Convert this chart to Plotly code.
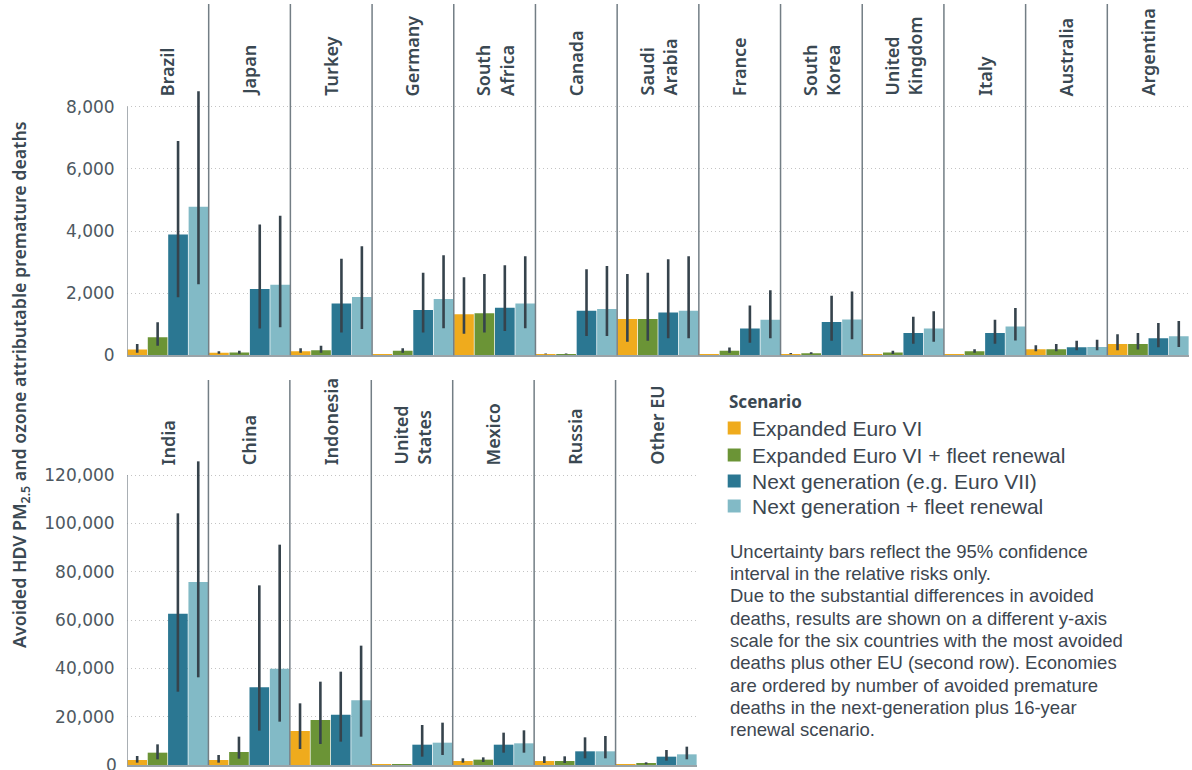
import plotly.graph_objects as go

W, H = 1192, 770

scenarios = ["Expanded Euro VI", "Expanded Euro VI + fleet renewal",
             "Next generation (e.g. Euro VII)", "Next generation + fleet renewal"]
colors = ["#efab1d", "#6b9436", "#2b7792", "#82bac6"]

top_countries = ["Brazil", "Japan", "Turkey", "Germany", "South<br>Africa", "Canada",
                 "Saudi<br>Arabia", "France", "South<br>Korea", "United<br>Kingdom",
                 "Italy", "Australia", "Argentina"]
bottom_countries = ["India", "China", "Indonesia", "United<br>States", "Mexico", "Russia", "Other EU"]

# top row values (central, low, high) per scenario
top_val = [
    [190, 85, 130, 10, 1320, 40, 1170, 10, 45, 10, 10, 195, 365],
    [580, 90, 160, 150, 1350, 40, 1170, 150, 65, 90, 130, 195, 365],
    [3890, 2130, 1670, 1460, 1530, 1430, 1380, 860, 1070, 720, 720, 260, 550],
    [4780, 2270, 1880, 1810, 1670, 1490, 1430, 1140, 1150, 860, 930, 270, 610],
]
top_lo = [
    [80, 50, 85, 10, 690, 30, 440, 10, 30, 10, 10, 130, 160],
    [310, 50, 85, 85, 730, 30, 470, 85, 40, 45, 85, 130, 190],
    [1870, 860, 730, 730, 780, 620, 550, 405, 470, 375, 375, 160, 260],
    [2290, 900, 850, 870, 870, 620, 550, 550, 515, 440, 480, 160, 270],
]
top_hi = [
    [360, 130, 225, 10, 2510, 60, 2620, 10, 70, 10, 10, 320, 680],
    [1060, 150, 310, 225, 2620, 60, 2660, 255, 100, 150, 195, 365, 720],
    [6900, 4210, 3110, 2660, 2900, 2770, 3090, 1600, 1920, 1240, 1140, 470, 1040],
    [8500, 4490, 3510, 3220, 3190, 2870, 3190, 2090, 2050, 1420, 1520, 500, 1100],
]

bot_val = [
    [2070, 2070, 14070, 200, 1650, 1650, 150],
    [5100, 5380, 18620, 300, 2210, 1650, 550],
    [62620, 32140, 20830, 8410, 8410, 5660, 3450],
    [75720, 39860, 26760, 9240, 8970, 5660, 4410],
]
bot_lo = [
    [970, 970, 6620, 200, 970, 830, 150],
    [2350, 2620, 8690, 300, 1240, 830, 280],
    [30340, 14210, 9660, 3450, 5100, 2760, 1790],
    [36280, 17930, 11720, 4140, 5100, 2760, 2350],
]
bot_hi = [
    [3720, 4140, 25520, 200, 2760, 3590, 150],
    [8550, 11720, 34480, 300, 3170, 3590, 1100],
    [104140, 74340, 38620, 16550, 13380, 11450, 6210],
    [125650, 91170, 49380, 17520, 14350, 12000, 7590],
]

top_ticks = [0, 2000, 4000, 6000, 8000]
bot_ticks = [0, 20000, 40000, 60000, 80000, 100000, 120000]

y_title = "Avoided HDV PM<sub>2.5</sub> and ozone attributable premature deaths"
note_lines = [
    "Uncertainty bars reflect the 95% confidence",
    "interval in the relative risks only.",
    "Due to the substantial differences in avoided",
    "deaths, results are shown on a different y-axis",
    "scale for the six countries with the most avoided",
    "deaths plus other EU (second row). Economies",
    "are ordered by number of avoided premature",
    "deaths in the next-generation plus 16-year",
    "renewal scenario.",
]


def px(x):
    return x / W


def py(y):
    return 1 - y / H


fig = go.Figure()
ERR_C = "#36434c"
BW = 0.25

for row, (countries, vals, los, his, xa, ya) in enumerate([
    (top_countries, top_val, top_lo, top_hi, "x", "y"),
    (bottom_countries, bot_val, bot_lo, bot_hi, "x2", "y2"),
]):
    n = len(countries)
    for k in range(4):
        xs = [i + BW / 2 + k * BW for i in range(n)]
        v = vals[k]
        fig.add_trace(go.Bar(
            x=xs, y=v, width=BW * 0.965,
            marker=dict(color=colors[k], line=dict(width=0)),
            error_y=dict(type="data", symmetric=False,
                         array=[h - c for h, c in zip(his[k], v)],
                         arrayminus=[c - l for c, l in zip(v, los[k])],
                         thickness=2.6, width=0, color=ERR_C),
            xaxis=xa, yaxis=ya, showlegend=False, name=scenarios[k],
            hovertemplate="%{y:,.0f}<extra>" + scenarios[k] + "</extra>",
        ))

TICKFONT = dict(family="DejaVu Sans", size=17, color="#4d5861")
GRID = dict(showgrid=True, gridcolor="#c4c4c4", gridwidth=1, griddash="1px,3px")

fig.update_layout(
    width=W, height=H, margin=dict(l=0, r=0, t=0, b=0),
    plot_bgcolor="white", paper_bgcolor="white", barmode="overlay",
    xaxis=dict(domain=[px(127), px(1189)], range=[0, len(top_countries)],
               showticklabels=False, showgrid=False, zeroline=False, automargin=False,
               showline=True, linecolor="#9aa3a8", linewidth=2, fixedrange=True),
    yaxis=dict(domain=[py(355.3), py(4)], range=[0, 11305], tickvals=top_ticks,
               tickformat=",", tickfont=TICKFONT, ticks="outside", ticklen=8,
               automargin=False,
               tickcolor="rgba(0,0,0,0)", zeroline=False, showline=False, **GRID),
    xaxis2=dict(domain=[px(127), px(697)], range=[0, len(bottom_countries)],
                showticklabels=False, showgrid=False, zeroline=False, automargin=False,
                showline=True, linecolor="#9aa3a8", linewidth=2, anchor="y2"),
    yaxis2=dict(domain=[py(765), py(380)], range=[0, 159310], tickvals=bot_ticks,
                tickformat=",", tickfont=TICKFONT, ticks="outside", ticklen=8,
                tickcolor="rgba(0,0,0,0)", zeroline=False, showline=False,
                automargin=False, anchor="x2", **GRID),
)

shapes = []
annotations = []
LINE_C = "#737e85"
LABEL_FONT = dict(family="Noto Sans", size=18, color="#3a4852", weight=600)

for countries, xr, yr, ticks, label_y in [
    (top_countries, "x", "y", top_ticks, 98),
    (bottom_countries, "x2", "y2", bot_ticks, 467),
]:
    n = len(countries)
    for i in range(1, n):
        shapes.append(dict(type="line", xref=xr, yref=yr + " domain", x0=i, x1=i,
                           y0=0, y1=1, line=dict(color=LINE_C, width=1.5), layer="above"))
    shapes.append(dict(type="line", xref=xr, yref=yr, x0=0, x1=0, y0=0, y1=ticks[-1],
                       line=dict(color="#8c959b", width=1.5)))
    for i, c in enumerate(countries):
        annotations.append(dict(text=c, xref=xr, yref="paper", x=i + 0.5, y=py(label_y),
                                xanchor="center", yanchor="bottom", textangle=-90,
                                align="left", showarrow=False, font=LABEL_FONT))

# bottom-row zero tick label (partly clipped at the page edge, as in the original)
annotations.append(dict(text=f"{bot_ticks[0]:,}", xref="paper", yref="y2", x=px(119), y=bot_ticks[0],
                        xanchor="right", yanchor="middle", showarrow=False, font=TICKFONT))

annotations.append(dict(text=y_title, xref="paper", yref="paper", x=px(20), y=py(385),
                        xanchor="center", yanchor="middle", textangle=-90, showarrow=False,
                        font=dict(family="Noto Sans", size=17.8, color="#3a4852", weight=600)))

# legend (manual)
annotations.append(dict(text="<b>Scenario</b>", xref="paper", yref="paper", x=px(727), y=py(402),
                        xanchor="left", yanchor="middle", showarrow=False,
                        font=dict(family="Noto Sans", size=17, color="#3a4852")))
leg_y = [428, 455, 481, 506]
for k in range(4):
    shapes.append(dict(type="rect", xref="paper", yref="paper",
                       x0=px(727.7), x1=px(740.7), y0=py(leg_y[k] - 6.5), y1=py(leg_y[k] + 6.5),
                       fillcolor=colors[k], line=dict(width=0)))
    annotations.append(dict(text=scenarios[k], xref="paper", yref="paper", x=px(750), y=py(leg_y[k]),
                            xanchor="left", yanchor="middle", showarrow=False,
                            font=dict(family="Liberation Sans", size=21, color="#3c4650")))

note_y = [551, 573.3, 595.6, 618, 640.3, 662.6, 685, 707.3, 729.6]
for t, yy in zip(note_lines, note_y):
    annotations.append(dict(text=t, xref="paper", yref="paper", x=px(728), y=py(yy),
                            xanchor="left", yanchor="middle", showarrow=False,
                            font=dict(family="Liberation Sans", size=18.5, color="#3d4650")))

fig.update_layout(shapes=shapes, annotations=annotations)
fig.write_html("out.html", config={"displayModeBar": False},
               post_script="document.body.style.margin='0px';document.body.style.overflow='hidden';")
